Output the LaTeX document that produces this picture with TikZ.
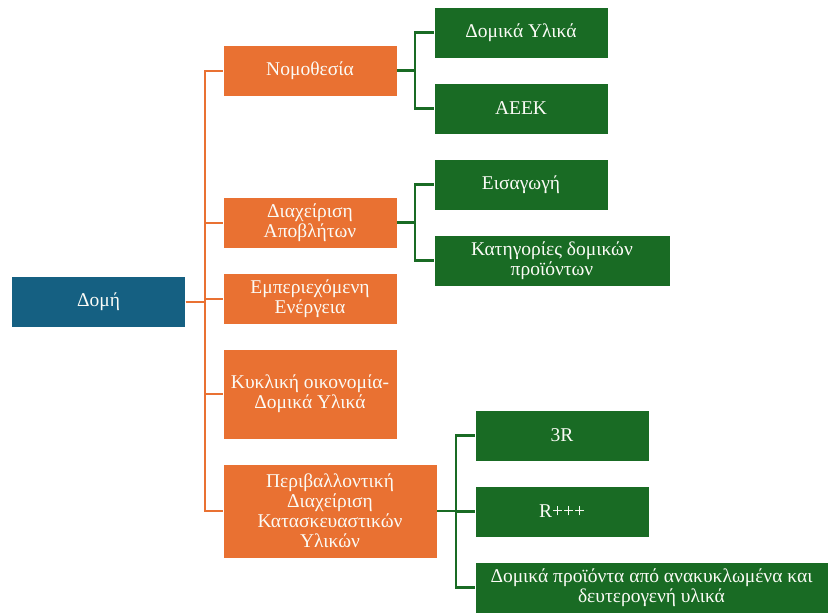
\documentclass[tikz,border=0pt]{standalone}
\usepackage{fontspec}
\setmainfont{Liberation Serif}
\usetikzlibrary{positioning}
\definecolor{color_root}{HTML}{156082}
\definecolor{color_topic}{HTML}{E97132}
\definecolor{color_item}{HTML}{196B24}
\definecolor{color_label}{HTML}{FBFBF6}
\tikzset{
  map_box/.style={draw=white, line width=0.6pt, inner sep=2pt, align=center, text=color_label,
    font=\fontsize{19.5}{20}\selectfont, minimum width=174pt, minimum height=51pt},
  root_box/.style={map_box, fill=color_root},
  topic_box/.style={map_box, fill=color_topic},
  item_box/.style={map_box, fill=color_item},
  topic_link/.style={draw=color_topic, line width=2pt},
  item_link/.style={draw=color_item, line width=2.2pt},
}
\begin{document}
\begin{tikzpicture}[x=1pt, y=-1pt]
    \useasboundingbox (0,0) rectangle (828,613);

    % root
    \node[root_box] (domi) at (98.5, 301.5) {Δομή};

    % topics
    \node[topic_box] (nomo) at (310, 70.5)  {Νομοθεσία};
    \node[topic_box] (diax) at (310, 222.5) {Διαχείριση\\Αποβλήτων};
    \node[topic_box] (emp)  at (310, 298.5) {Εμπεριεχόμενη\\Ενέργεια};
    \node[topic_box, minimum height=90pt] (kykl) at (310, 394) {Κυκλική οικονομία-\\Δομικά Υλικά};
    \node[topic_box, minimum width=214pt, minimum height=94pt] (peri) at (330, 511)
      {Περιβαλλοντική\\Διαχείριση\\Κατασκευαστικών\\Υλικών};

    % items
    \node[item_box] (dyl)  at (521, 32.5)  {Δομικά Υλικά};
    \node[item_box] (aeek) at (521, 108.5) {ΑΕΕΚ};
    \node[item_box] (eisa) at (521, 184.5) {Εισαγωγή};
    \node[item_box, minimum width=236pt] (kat) at (552, 260.5) {Κατηγορίες δομικών\\προϊόντων};
    \node[item_box] (rthree) at (562, 435.5) {3R};
    \node[item_box] (rplus)  at (562, 511.5) {R+++};
    \node[item_box, minimum width=353pt] (dpro) at (651.5, 587.5)
      {Δομικά προϊόντα από ανακυκλωμένα και\\δευτερογενή υλικά};

    % links
    \foreach \t in {nomo, diax, emp, kykl, peri}
      \draw[topic_link] (domi.east) -- ++(19,0) |- (\t.west);
    \foreach \i in {dyl, aeek}
      \draw[item_link] (nomo.east) -- ++(18,0) |- (\i.west);
    \foreach \i in {eisa, kat}
      \draw[item_link] (diax.east) -- ++(18,0) |- (\i.west);
    \foreach \i in {rthree, rplus, dpro}
      \draw[item_link] (peri.east) -- ++(19,0) |- (\i.west);
  \end{tikzpicture}
\end{document}
